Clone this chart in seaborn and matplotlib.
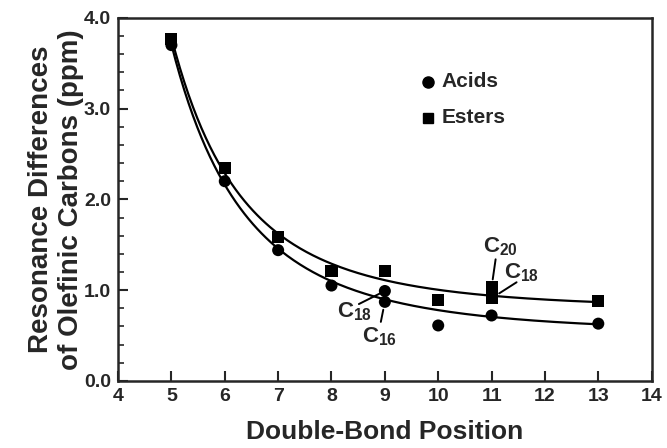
import numpy as np
import pandas as pd
import matplotlib
matplotlib.use('Agg')
import matplotlib.pyplot as plt
import seaborn as sns

# Dados
acid_pos = [5, 6, 7, 8, 9, 9, 10, 11, 13]
acid_diff = [3.70, 2.20, 1.44, 1.05, 0.99, 0.87, 0.61, 0.72, 0.63]
ester_pos = [5, 6, 7, 8, 9, 10, 11, 11, 13]
ester_diff = [3.77, 2.35, 1.59, 1.21, 1.21, 0.89, 1.03, 0.91, 0.88]

sns.set_style('ticks')
plt.rcParams['font.family'] = ['Liberation Sans', 'DejaVu Sans']
plt.rcParams['font.weight'] = 'bold'
plt.rcParams['mathtext.fontset'] = 'custom'
plt.rcParams['mathtext.rm'] = 'Liberation Sans:bold'
plt.rcParams['mathtext.bf'] = 'Liberation Sans:bold'
plt.rcParams['mathtext.default'] = 'bf'

data = pd.concat([
    pd.DataFrame({'pos': acid_pos, 'diff': acid_diff, 'serie': 'Acids'}),
    pd.DataFrame({'pos': ester_pos, 'diff': ester_diff, 'serie': 'Esters'}),
])


def ajuste(x, y, iters=4):
    # y = a + b/(x-c)^n ; grade para c e n, minimos quadrados (robusto, bisquare) para a, b
    x = np.asarray(x, float)
    y = np.asarray(y, float)
    w = np.ones_like(y)
    for _ in range(iters):
        melhor = None
        for c in np.linspace(0, 4.9, 50):
            for n in np.linspace(0.3, 4, 75):
                A = np.column_stack([np.ones_like(x), (x - c) ** -n])
                sw = np.sqrt(w)
                sol = np.linalg.lstsq(A * sw[:, None], y * sw, rcond=None)[0]
                err = np.sum(w * (A @ sol - y) ** 2)
                if melhor is None or err < melhor[0]:
                    melhor = (err, sol[0], sol[1], c, n)
        _, a, b, c, n = melhor
        r = y - (a + b / (x - c) ** n)
        s = 6 * np.median(np.abs(r)) + 1e-9
        u = np.clip(r / s, -1, 1)
        w = (1 - u ** 2) ** 2
    return lambda t: a + b / (t - c) ** n


fig = plt.figure(figsize=(6.67, 4.48), dpi=100)
ax = fig.add_axes([0.177, 0.15, 0.8, 0.81])

xs = np.linspace(5, 13, 200)
for x, y in [(acid_pos, acid_diff), (ester_pos, ester_diff)]:
    f = ajuste(x, y)
    sns.lineplot(x=xs, y=f(xs), color='black', lw=1.6, ax=ax)

sns.scatterplot(data=data, x='pos', y='diff', style='serie',
                markers={'Acids': 'o', 'Esters': 's'}, color='black',
                s=75, edgecolor='black', linewidth=0, ax=ax, legend=False)

# legenda manual
ax.plot([0.58], [0.824], 'o', color='black', ms=8, transform=ax.transAxes)
ax.text(0.607, 0.824, 'Acids', transform=ax.transAxes, va='center', fontsize=15, fontweight='bold')
ax.plot([0.58], [0.725], 's', color='black', ms=7, transform=ax.transAxes)
ax.text(0.607, 0.725, 'Esters', transform=ax.transAxes, va='center', fontsize=15, fontweight='bold')

# anotações: texto + traço separado
rotulos = [
    (r'C$_{20}$', (11, 1.03), (6.5, 29.5), (2.9, 20.2), 5.8),
    (r'C$_{18}$', (11, 0.91), (21.6, 18.7), (18, 11.5), 6.5),
    (r'C$_{18}$', (9, 0.99), (-22, -15), (-18.7, -9.4), 4),
    (r'C$_{16}$', (9, 0.87), (-4, -25), (-2.9, -14.4), 5.8),
]
for txt, ponto, off_txt, off_linha, enc in rotulos:
    ax.annotate(txt, xy=ponto, xytext=off_txt, textcoords='offset points',
                fontsize=16, fontweight='bold', ha='center', va='center')
    ax.annotate('', xy=ponto, xytext=off_linha, textcoords='offset points',
                arrowprops=dict(arrowstyle='-', color='black', lw=1.4, shrinkA=0, shrinkB=enc))

ax.set_xlim(4, 14)
ax.set_ylim(0, 4)
ax.set_xticks(range(4, 15))
ax.set_yticks([0, 1, 2, 3, 4])
ax.set_yticklabels(['0.0', '1.0', '2.0', '3.0', '4.0'])
ax.set_yticks(np.arange(0, 4.01, 0.2), minor=True)
ax.tick_params(axis='both', which='major', direction='in', length=7, width=1.5, labelsize=14, pad=5)
ax.tick_params(axis='y', which='minor', direction='in', length=4, width=1.2)
for lab in ax.get_xticklabels() + ax.get_yticklabels():
    lab.set_fontweight('bold')
for sp in ax.spines.values():
    sp.set_linewidth(1.8)
    sp.set_visible(True)

ax.set_xlabel('Double-Bond Position', fontsize=19, fontweight='bold', labelpad=11)
ax.set_ylabel('Resonance Differences\nof Olefinic Carbons (ppm)', fontsize=20, fontweight='bold', labelpad=0)

fig.savefig('out.png', dpi=100)
